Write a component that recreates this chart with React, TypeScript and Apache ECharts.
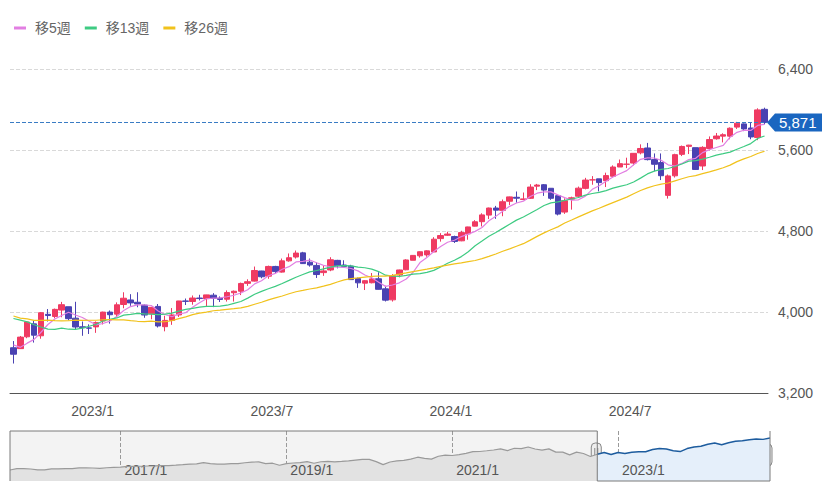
import React, { useEffect, useRef } from "react";
import * as echarts from "echarts";

// Weekly candles, [open, close, low, high], week ending 2022/10/14 .. 2024/11/15
const ohlc: number[][] = [
  [3647, 3583, 3491, 3713], [3638, 3752, 3637, 3763], [3755, 3901, 3741, 3905], [3883, 3771, 3698, 3912],
  [3765, 3993, 3736, 4000], [3977, 3965, 3906, 4029], [3956, 4026, 3938, 4034], [4019, 4072, 3948, 4100],
  [4052, 3934, 3918, 4052], [3939, 3852, 3828, 4101], [3854, 3845, 3765, 3906], [3843, 3840, 3783, 3878],
  // 2023
  [3853, 3895, 3794, 3907], [3911, 3999, 3877, 4003], [3999, 3973, 3885, 4015], [3979, 4071, 3950, 4095],
  [4074, 4136, 4037, 4195], [4119, 4090, 4061, 4176], [4096, 4079, 4047, 4195], [4068, 3970, 3943, 4073],
  [3982, 4046, 3928, 4049], [4055, 3862, 3847, 4079], [3855, 3917, 3809, 3963], [3917, 3971, 3873, 4039],
  [3971, 4109, 3951, 4110], [4109, 4105, 4069, 4133], [4104, 4138, 4072, 4163], [4138, 4133, 4114, 4170],
  [4132, 4169, 4049, 4170], [4166, 4136, 4048, 4186], [4136, 4124, 4099, 4154], [4126, 4192, 4103, 4213],
  [4190, 4205, 4103, 4212], [4205, 4282, 4167, 4290], [4283, 4299, 4258, 4323], [4305, 4410, 4301, 4449],
  [4405, 4348, 4333, 4407], [4354, 4450, 4328, 4458], [4450, 4399, 4385, 4456], [4394, 4505, 4389, 4528],
  [4505, 4536, 4497, 4578], [4543, 4582, 4528, 4607], [4584, 4478, 4474, 4594], [4492, 4464, 4448, 4528],
  [4460, 4370, 4336, 4490], [4389, 4406, 4357, 4458], [4415, 4516, 4403, 4541], [4510, 4457, 4431, 4515],
  [4464, 4450, 4443, 4511], [4453, 4320, 4316, 4466], [4330, 4288, 4238, 4341], [4285, 4309, 4217, 4315],
  [4289, 4327, 4283, 4385], [4328, 4224, 4222, 4393], [4229, 4117, 4104, 4259], [4120, 4358, 4103, 4374],
  [4365, 4415, 4342, 4418], [4417, 4514, 4412, 4521], [4511, 4559, 4511, 4561], [4555, 4595, 4537, 4598],
  [4564, 4604, 4546, 4609], [4593, 4719, 4593, 4739], [4725, 4755, 4695, 4779], [4758, 4770, 4751, 4793],
  // 2024
  [4745, 4697, 4682, 4754], [4703, 4784, 4699, 4802], [4772, 4840, 4714, 4842], [4848, 4891, 4845, 4907],
  [4892, 4959, 4845, 4975], [4957, 5027, 4918, 5031], [5027, 5006, 4920, 5048], [5004, 5089, 4946, 5111],
  [5094, 5137, 5057, 5140], [5133, 5124, 5079, 5190], [5111, 5117, 5104, 5180], [5123, 5234, 5117, 5262],
  [5243, 5254, 5204, 5265], [5257, 5204, 5147, 5264], [5222, 5123, 5108, 5222], [5149, 4967, 4954, 5150],
  [4987, 5100, 4969, 5123], [5114, 5128, 5011, 5139], [5143, 5223, 5127, 5239], [5221, 5303, 5211, 5325],
  [5305, 5305, 5257, 5342], [5315, 5278, 5191, 5315], [5297, 5347, 5234, 5376], [5341, 5432, 5330, 5448],
  [5432, 5465, 5432, 5506], [5459, 5460, 5421, 5524], [5471, 5567, 5448, 5570], [5572, 5615, 5557, 5656],
  [5620, 5505, 5497, 5670], [5505, 5459, 5390, 5566], [5476, 5346, 5303, 5566], [5152, 5344, 5120, 5358],
  [5345, 5554, 5328, 5563], [5557, 5635, 5540, 5644], [5636, 5648, 5560, 5651], [5623, 5408, 5403, 5623],
  [5442, 5626, 5402, 5637], [5615, 5703, 5596, 5734], [5711, 5738, 5702, 5768], [5737, 5751, 5675, 5765],
  [5737, 5815, 5706, 5823], [5826, 5865, 5808, 5878], [5858, 5808, 5786, 5863], [5817, 5729, 5706, 5868],
  [5723, 5996, 5697, 6012], [6002, 5871, 5853, 6018],
];

// Weekly closes of the 25 weeks before the first candle (for the moving averages)
const prevCloses: number[] = [
  4272, 4132, 4123, 4024, 3901, 4158, 4109, 3901, 3675, 3912, 3825, 3899, 3863,
  3962, 4130, 4145, 4280, 4228, 4058, 3924, 4067, 3873, 3693, 3586, 3640,
];

// Navigator: monthly closes 2015/9 .. 2024/11
const navCloses: number[] = [
  1920, 2079, 2080, 2044,
  1940, 1932, 2060, 2065, 2097, 2099, 2174, 2171, 2168, 2126, 2199, 2239,
  2279, 2364, 2363, 2384, 2412, 2423, 2470, 2472, 2519, 2575, 2648, 2674,
  2824, 2714, 2641, 2648, 2705, 2718, 2816, 2902, 2914, 2712, 2760, 2507,
  2704, 2784, 2834, 2946, 2752, 2942, 2980, 2926, 2977, 3038, 3141, 3231,
  3226, 2954, 2585, 2912, 3044, 3100, 3271, 3500, 3363, 3270, 3622, 3756,
  3714, 3811, 3973, 4181, 4204, 4298, 4395, 4523, 4308, 4605, 4567, 4766,
  4516, 4374, 4530, 4132, 4132, 3785, 4130, 3955, 3586, 3872, 4080, 3840,
  4077, 3970, 4109, 4169, 4180, 4450, 4589, 4508, 4288, 4194, 4568, 4770,
  4846, 5096, 5254, 5036, 5278, 5460, 5522, 5648, 5762, 5705, 5871,
];

const yTicks = { min: 3200, max: 6400, interval: 800 };
const maPeriods = [5, 13, 26];
const maNames = ["移5週", "移13週", "移26週"];
const maColors = ["#e27fe2", "#3ecb82", "#f1c21c"];
const UP = "#ef3a62";
const DOWN = "#4a42b2";
const selStartMonth = "2022/10";

const weekDates: string[] = ohlc.map((_, i) => {
  const d = new Date(Date.UTC(2022, 9, 14) + i * 7 * 86400000);
  return `${d.getUTCFullYear()}/${d.getUTCMonth() + 1}/${d.getUTCDate()}`;
});
const navMonths: string[] = navCloses.map((_, i) => {
  const m = 8 + i;
  return `${2015 + Math.floor(m / 12)}/${(m % 12) + 1}`;
});

const closesAll = prevCloses.concat(ohlc.map((d) => d[1]));
function movingAvg(n: number): number[] {
  return ohlc.map((_, i) => {
    const end = i + prevCloses.length;
    let s = 0;
    for (let k = end - n + 1; k <= end; k++) s += closesAll[k];
    return Math.round((s / n) * 100) / 100;
  });
}

const FONT = '"Liberation Sans", "Noto Sans CJK JP", sans-serif';
const W = 833;
const H = 487;
const GRID = { left: 10, right: 65, top: 69, bottom: 94 };
const NAV = { left: 10, right: 63, top: 431, height: 50 };

export default function App() {
  const ref = useRef<HTMLDivElement>(null);
  useEffect(() => {
    if (!ref.current) return;
    const chart = echarts.init(ref.current, undefined, { renderer: "svg", width: W, height: H });
    const selIdx = navMonths.indexOf(selStartMonth);
    const navGray = navCloses.map((v, i) => (i <= selIdx ? v : "-"));
    const navBlue = navCloses.map((v, i) => (i >= selIdx ? v : "-"));
    const lastClose = ohlc[ohlc.length - 1][1];

    const option: any = {
      animation: false,
      textStyle: { fontFamily: FONT },
      legend: {
        left: 9,
        top: 16,
        itemWidth: 12,
        itemHeight: 3,
        itemGap: 14,
        icon: "rect",
        data: maNames,
        textStyle: { color: "#666", fontSize: 14, fontFamily: FONT, padding: [0, 0, 0, 4] },
      },
      grid: [
        { left: GRID.left, right: GRID.right, top: GRID.top, bottom: GRID.bottom },
        { left: NAV.left, right: NAV.right, top: NAV.top, height: NAV.height },
      ],
      xAxis: [
        {
          type: "category",
          gridIndex: 0,
          data: weekDates,
          boundaryGap: true,
          axisLine: { show: true, lineStyle: { color: "#555", width: 1 } },
          axisTick: { show: false },
          splitLine: { show: false },
          axisLabel: {
            color: "#555",
            fontSize: 14,
            margin: 11,
            padding: [0, 7, 0, 0],
            interval: (_i: number, v: string) => {
              const p = v.split("/");
              return (p[1] === "1" || p[1] === "7") && +p[2] <= 7;
            },
            formatter: (v: string) => v.split("/").slice(0, 2).join("/"),
          },
        },
        {
          type: "category",
          gridIndex: 1,
          data: navMonths,
          boundaryGap: false,
          z: 3,
          axisLine: { show: false },
          axisTick: { show: false },
          splitLine: {
            show: true,
            interval: (_i: number, v: string) => {
              const p = v.split("/");
              return p[1] === "1" && +p[0] % 2 === 1;
            },
            lineStyle: { type: "dashed", color: "#9a9a9a", width: 1 },
          },
          axisLabel: {
            inside: true,
            align: "left",
            color: "#555",
            fontSize: 14,
            margin: 4,
            padding: [0, 0, 0, 4],
            interval: (_i: number, v: string) => {
              const p = v.split("/");
              return p[1] === "1" && +p[0] % 2 === 1;
            },
          },
        },
      ],
      yAxis: [
        {
          type: "value",
          gridIndex: 0,
          position: "right",
          min: yTicks.min,
          max: yTicks.max,
          interval: yTicks.interval,
          axisLine: { show: false },
          axisTick: { show: false },
          splitLine: { show: true, lineStyle: { type: "dashed", color: "#d9d9d9" } },
          axisLabel: {
            color: "#555",
            fontSize: 14,
            margin: 10,
            formatter: (v: number) => v.toLocaleString("en-US"),
          },
        },
        { type: "value", gridIndex: 1, min: 560, max: 6740, show: false },
      ],
      series: [
        {
          type: "candlestick",
          name: "price",
          xAxisIndex: 0,
          yAxisIndex: 0,
          data: ohlc,
          barWidth: 6,
          itemStyle: { color: UP, color0: DOWN, borderColor: UP, borderColor0: DOWN, borderWidth: 1 },
          markLine: {
            silent: true,
            symbol: "none",
            label: { show: false },
            lineStyle: { type: "dashed", color: "#3a7cc4", width: 1 },
            data: [{ yAxis: lastClose }],
          },
        },
        ...maPeriods.map((n, k) => ({
          type: "line",
          name: maNames[k],
          xAxisIndex: 0,
          yAxisIndex: 0,
          data: movingAvg(n),
          symbol: "none",
          color: maColors[k],
          lineStyle: { color: maColors[k], width: 1.2 },
        })),
        {
          type: "line",
          name: "navGray",
          xAxisIndex: 1,
          yAxisIndex: 1,
          data: navGray,
          symbol: "none",
          lineStyle: { color: "#9a9a9a", width: 1.2 },
          areaStyle: { color: "#e2e2e2", opacity: 1 },
          silent: true,
        },
        {
          type: "line",
          name: "navBlue",
          xAxisIndex: 1,
          yAxisIndex: 1,
          data: navBlue,
          symbol: "none",
          lineStyle: { color: "#1d5c9e", width: 1.5 },
          areaStyle: { color: "#e5effa", opacity: 1 },
          silent: true,
        },
      ],
    };
    chart.setOption(option);

    // decorations placed through the chart's own coordinate conversion
    const xSel = chart.convertToPixel({ xAxisIndex: 1 }, selStartMonth) as number;
    const xEnd = chart.convertToPixel({ xAxisIndex: 1 }, navMonths[navMonths.length - 1]) as number;
    const xStart = chart.convertToPixel({ xAxisIndex: 1 }, navMonths[0]) as number;
    const yPrice = chart.convertToPixel({ yAxisIndex: 0 }, lastClose) as number;
    const top = NAV.top;
    const bot = NAV.top + NAV.height;
    const gridRight = W - GRID.right;
    const handle = (x: number, cy: number) => ({
      type: "group",
      z: 110,
      children: [
        {
          type: "rect",
          shape: { x: x - 5, y: cy - 11, width: 10, height: 22, r: 4 },
          style: { fill: "#eeeeee", stroke: "#888", lineWidth: 1 },
        },
        { type: "line", shape: { x1: x - 1.5, y1: cy - 6, x2: x - 1.5, y2: cy + 6 }, style: { stroke: "#888", lineWidth: 1 } },
        { type: "line", shape: { x1: x + 1.5, y1: cy - 6, x2: x + 1.5, y2: cy + 6 }, style: { stroke: "#888", lineWidth: 1 } },
      ],
    });
    chart.setOption({
      graphic: [
        {
          type: "rect",
          z: -1,
          shape: { x: xStart, y: top, width: xSel - xStart, height: NAV.height },
          style: { fill: "#f3f3f3" },
          silent: true,
        },
        {
          type: "polyline",
          z: 100,
          shape: {
            points: [
              [xStart, bot],
              [xStart, top],
              [xSel, top],
              [xSel, bot],
              [xEnd, bot],
              [xEnd, top],
            ],
          },
          style: { stroke: "#7a7a7a", lineWidth: 1, fill: null },
          silent: true,
        },
        handle(xSel - 1, top + 23),
        handle(xEnd - 3, top + 24),
        {
          type: "group",
          z: 120,
          children: [
            {
              type: "polygon",
              shape: {
                points: [
                  [gridRight - 1, yPrice],
                  [gridRight + 7, yPrice - 9],
                  [gridRight + 54, yPrice - 9],
                  [gridRight + 54, yPrice + 9],
                  [gridRight + 7, yPrice + 9],
                ],
              },
              style: { fill: "#1a66c0" },
            },
            {
              type: "text",
              x: gridRight + 11,
              y: yPrice,
              style: {
                text: lastClose.toLocaleString("en-US"),
                fill: "#fff",
                font: `15px ${FONT}`,
                verticalAlign: "middle",
                align: "left",
              },
            },
          ],
        },
      ],
    });
    return () => chart.dispose();
  }, []);
  return <div ref={ref} style={{ position: "absolute", left: 0, top: 0, width: W, height: H }} />;
}
